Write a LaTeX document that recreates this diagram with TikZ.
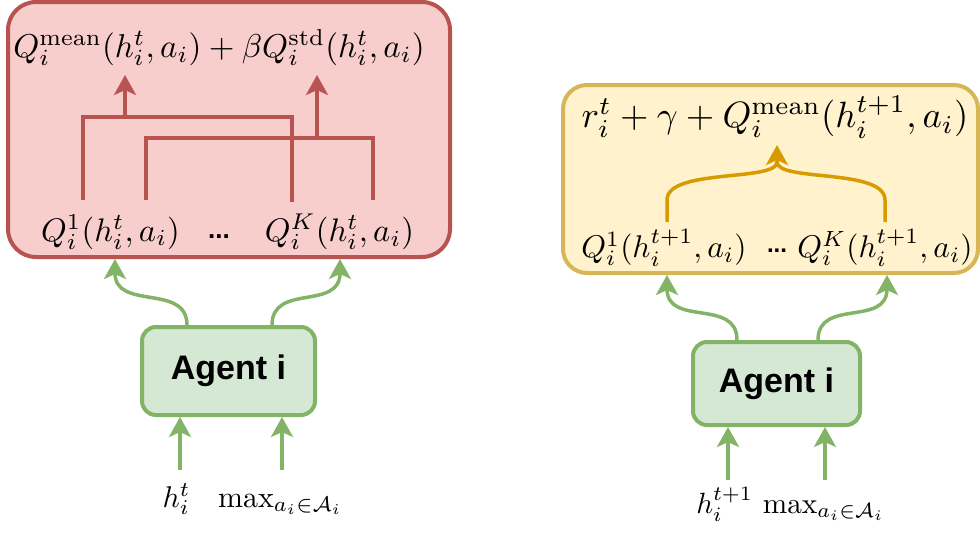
\RequirePackage{fix-cm}
\documentclass[tikz,border=0pt]{standalone}
\usepackage{amsmath}
\usepackage{graphicx}
\usepackage{fontspec}
\newfontfamily\agentfont{Liberation Sans}
\usetikzlibrary{arrows.meta,calc}
\definecolor{redF}{HTML}{F8CECC}
\definecolor{redS}{HTML}{B85450}
\definecolor{yelF}{HTML}{FFF2CC}
\definecolor{yelS}{HTML}{D6B656}
\definecolor{yelA}{HTML}{D79B00}
\definecolor{grnF}{HTML}{D5E8D4}
\definecolor{grnS}{HTML}{82B366}
\begin{document}
\begin{tikzpicture}[x=1pt,y=-1pt,
  container/.style={line width=4pt, rounded corners=28pt, inner sep=0pt},
  mtext/.style={inner sep=0pt},
  dotstext/.style={inner sep=0pt, anchor=base, font=\agentfont\bfseries\fontsize{26}{30}\selectfont},
  agent/.style={draw=grnS, fill=grnF, line width=4pt, rounded corners=14pt, inner sep=0pt,
    font=\agentfont\bfseries\fontsize{34}{38}\selectfont},
  tipS/.style={-{Stealth[length=20pt,width=22pt,inset=5pt]}},
  redline/.style={draw=redS, line width=3.5pt},
  yelline/.style={draw=yelA, line width=3.5pt},
  grnline/.style={draw=grnS, line width=3.5pt}
]
\useasboundingbox (0,0) rectangle (980,533);

% containers
\node[container, draw=redS, fill=redF, minimum width=442pt, minimum height=255pt] (rbox) at (229,129.5) {};
\node[container, draw=yelS, fill=yelF, rounded corners=24pt, minimum width=415pt, minimum height=188pt] (ybox) at (770.5,179) {};

% red texts
\node[mtext] (rtop) at (219,47.5) {\scalebox{3.3}{$Q_i^{\mathrm{mean}}(h_i^t,a_i)+\beta Q_i^{\mathrm{std}}(h_i^t,a_i)$}};
\node[mtext] (rq1) at (110.5,232) {\scalebox{3.26}{$Q_i^1(h_i^t,a_i)$}};
\node[dotstext] (rdots) at (219,238) {...};
\node[mtext] (rqk) at (339.5,232) {\scalebox{3.26}{$Q_i^K(h_i^t,a_i)$}};

% red connectors
\draw[redline] ($(rq1.center)+(-27.5,-32)$) -- ($(rq1.center)+(-27.5,-115)$) -| ($(rqk.center)+(-47.5,-30)$);
\draw[redline] ($(rq1.center)+(35.5,-32)$) -- ($(rq1.center)+(35.5,-94)$) -| ($(rqk.center)+(33.5,-32)$);
\draw[redline,tipS] ($(rtop.center)+(-94,69.5)$) -- ($(rtop.center)+(-94,27.5)$);
\draw[redline,tipS] ($(rtop.center)+(98,90.5)$) -- ($(rtop.center)+(98,27.5)$);

% yellow texts
\node[mtext] (ytop) at (775,117) {\scalebox{3.66}{$r_i^t+\gamma+Q_i^{\mathrm{mean}}(h_i^{t+1},a_i)$}};
\node[mtext] (yq1) at (664,248) {\scalebox{3.14}{$Q_i^1(h_i^{t+1},a_i)$}};
\node[dotstext, font=\agentfont\bfseries\fontsize{24}{28}\selectfont] (ydots) at (777,252) {...};
\node[mtext] (yqk) at (885,248) {\scalebox{3.14}{$Q_i^K(h_i^{t+1},a_i)$}};

% yellow connector
\draw[yelline,tipS] ($(yq1.center)+(3,-26)$) -- ($(yq1.center)+(3,-48)$)
  .. controls ($(yq1.center)+(3,-80)$) and ($(ytop.center)+(2,65)$) .. ($(ytop.center)+(2,45)$)
  -- ($(ytop.center)+(2,28)$);
\draw[yelline] ($(yqk.center)+(0,-26)$) -- ($(yqk.center)+(0,-48)$)
  .. controls ($(yqk.center)+(0,-80)$) and ($(ytop.center)+(2,65)$) .. ($(ytop.center)+(2,45)$);

% agents
\node[agent, minimum width=173pt, minimum height=88pt] (agL) at (228.5,371) {Agent i};
\node[agent, minimum width=167pt, minimum height=83pt] (agR) at (776.5,383.5) {Agent i};

% agent outputs
\draw[grnline,tipS] ($(agL.north)+(-41.5,0)$) .. controls ($(agL.north)+(-41.5,-42)$) and ($(rbox.south)+(-114,52)$) .. ($(rbox.south)+(-114,0)$);
\draw[grnline,tipS] ($(agL.north)+(43.5,0)$) .. controls ($(agL.north)+(43.5,-42)$) and ($(rbox.south)+(111,52)$) .. ($(rbox.south)+(111,0)$);
\draw[grnline,tipS] ($(agR.north)+(-39.5,0)$) .. controls ($(agR.north)+(-39.5,-42)$) and ($(ybox.south)+(-103.5,52)$) .. ($(ybox.south)+(-103.5,0)$);
\draw[grnline,tipS] ($(agR.north)+(41.5,0)$) .. controls ($(agR.north)+(41.5,-42)$) and ($(ybox.south)+(116.5,52)$) .. ($(ybox.south)+(116.5,0)$);

% inputs
\coordinate (inL1) at (180,470);
\coordinate (inL2) at (282,470);
\coordinate (inR1) at (728,480);
\coordinate (inR2) at (825,480);
\draw[grnline,tipS] (inL1) -- (inL1 |- agL.south);
\draw[grnline,tipS] (inL2) -- (inL2 |- agL.south);
\draw[grnline,tipS] (inR1) -- (inR1 |- agR.south);
\draw[grnline,tipS] (inR2) -- (inR2 |- agR.south);

% input labels
\node[mtext, anchor=base] (hL) at (176.5,507) {\scalebox{3.0}{$h_i^t$}};
\node[mtext, anchor=base] (mL) at (280.5,507) {\scalebox{3.0}{$\max_{a_i\in\mathcal{A}_i}$}};
\node[mtext, anchor=base] (hmR) at (790.5,513) {\scalebox{2.93}{$h_i^{t+1}\,\max_{a_i\in\mathcal{A}_i}$}};
\end{tikzpicture}
\end{document}
